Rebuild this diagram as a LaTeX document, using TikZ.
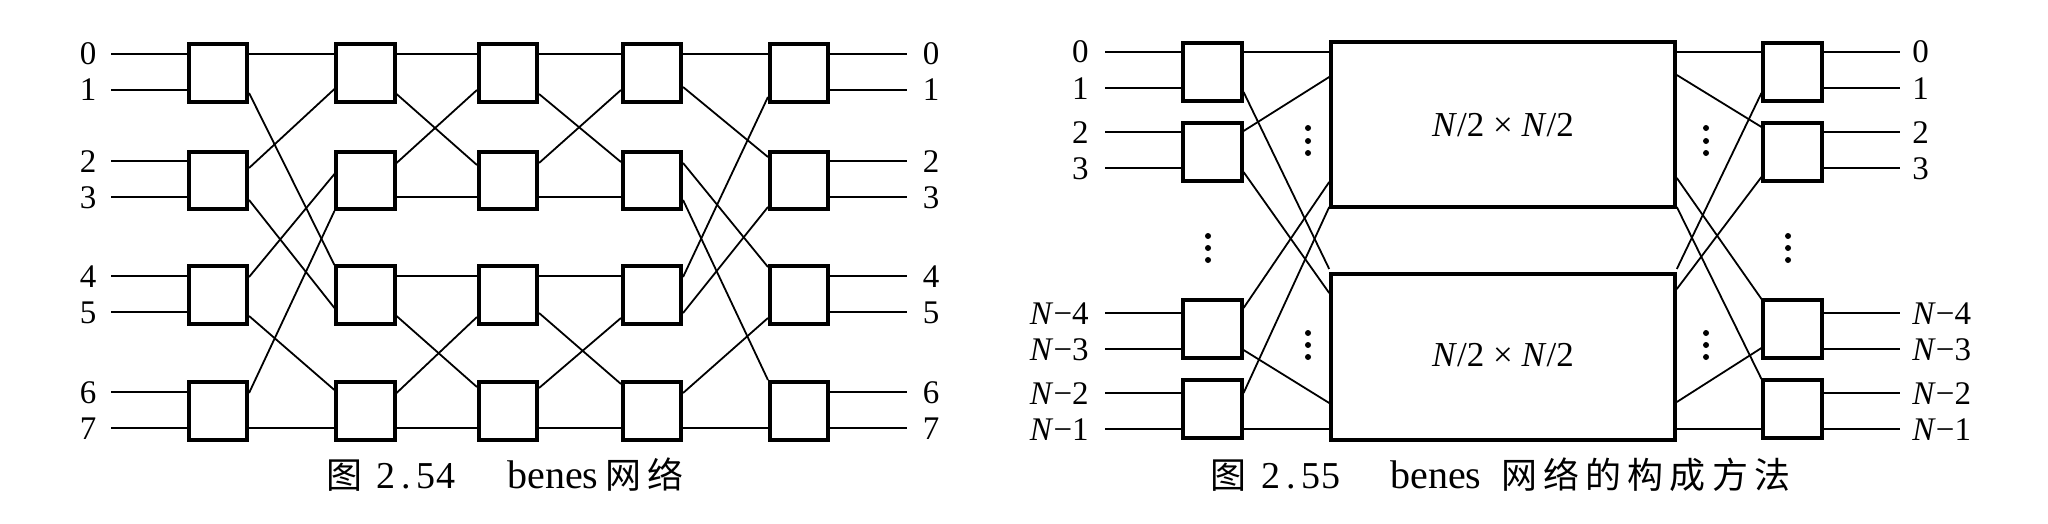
\documentclass[tikz,border=0pt]{standalone}
\usepackage{fontspec}
\setmainfont{Liberation Serif}
\newfontfamily\cjk[LetterSpace=17]{Noto Sans CJK SC}
\usetikzlibrary{calc}
\newcommand\lnk[4]{\draw[wire] (#1.east |- 0,#2) -- (#3.west |- 0,#4);}
\begin{document}
\begin{tikzpicture}[x=0.5pt,y=-0.5pt,
  sw/.style={draw,line width=1.8pt,minimum width=29.25pt,minimum height=28.75pt,inner sep=0pt},
  big/.style={draw,line width=1.8pt,minimum width=172pt,minimum height=82.75pt,inner sep=0pt},
  wire/.style={line width=0.9pt},
  lab/.style={font=\fontsize{16.5}{16.5}\selectfont,inner sep=0pt},
  dot/.style={circle,fill,inner sep=0pt,minimum size=3pt},
  capbase/.style={inner sep=0pt,anchor=base west},
  capcjk/.style={capbase,font=\cjk\fontsize{18}{18}\selectfont},
  capnum/.style={capbase,font=\fontsize{19}{19}\selectfont},
  caplat/.style={capbase,font=\fontsize{20}{20}\selectfont},
  bigtext/.style={inner sep=0pt,anchor=base,font=\fontsize{17.5}{17.5}\selectfont}]
\useasboundingbox (0,0) rectangle (2048,524);

% ---------------- left diagram: benes network ----------------
\foreach \c/\x in {0/218,1/365.5,2/508,3/652,4/799}
  \foreach \r/\y in {0/73,1/180.5,2/295,3/411}
    \node[sw] (b\c\r) at (\x,\y) {};

\foreach \n/\p/\r in {0/54/0,1/90/0,2/161/1,3/197/1,4/276/2,5/312/2,6/392/3,7/428/3}{
  \coordinate (i\n) at (111,\p);
  \coordinate (o\n) at (907,\p);
  \node[lab,anchor=base] (li\n) at (88,\p+11) {\n};
  \node[lab,anchor=base] (lo\n) at (931,\p+11) {\n};
  \draw[wire] (i\n) -- (b0\r.west |- i\n);
  \draw[wire] (b4\r.east |- o\n) -- (o\n);
}

\lnk{b00}{54}{b10}{54}
\lnk{b00}{93}{b12}{265}
\lnk{b01}{168}{b10}{89}
\lnk{b01}{200}{b12}{308}
\lnk{b02}{277}{b11}{174}
\lnk{b02}{316}{b13}{390}
\lnk{b03}{393}{b11}{211}
\lnk{b03}{428}{b13}{428}

\lnk{b10}{54}{b20}{54}
\lnk{b10}{94}{b21}{165}
\lnk{b11}{163}{b20}{90}
\lnk{b11}{197}{b21}{197}
\lnk{b12}{276}{b22}{276}
\lnk{b12}{316}{b23}{387}
\lnk{b13}{393}{b22}{317}
\lnk{b13}{428}{b23}{428}

\lnk{b20}{54}{b30}{54}
\lnk{b20}{94}{b31}{162}
\lnk{b21}{163}{b30}{90}
\lnk{b21}{197}{b31}{197}
\lnk{b22}{276}{b32}{276}
\lnk{b22}{313}{b33}{384}
\lnk{b23}{388}{b32}{318}
\lnk{b23}{428}{b33}{428}

\lnk{b30}{54}{b40}{54}
\lnk{b30}{87}{b41}{157}
\lnk{b31}{163}{b42}{267}
\lnk{b31}{200}{b43}{380}
\lnk{b32}{277}{b40}{97}
\lnk{b32}{313}{b41}{207}
\lnk{b33}{393}{b42}{318}
\lnk{b33}{428}{b43}{428}

\node[capcjk] (c1a) at (326,488) {图};
\node[capnum] (c1b) at (376,488) {\makebox[10pt]{2}\makebox[10pt]{.}\makebox[10pt]{5}\makebox[10pt]{4}};
\node[caplat] (c1c) at (507,488) {benes};
\node[capcjk] (c1d) at (605,488) {网络};

% ---------------- right diagram: construction ----------------
\foreach \r/\y in {0/72,1/152,2/329,3/409}{
  \node[sw] (L\r) at (1212.5,\y) {};
  \node[sw] (R\r) at (1792.5,\y) {};
}
\node[big] (U) at (1503,124.5) {};
\node[big] (D) at (1503,357) {};
\node[bigtext] (Ut) at (1503,136) {\textit{N}/2\hspace{0.25em}×\hspace{0.25em}\textit{N}/2};
\node[bigtext] (Dt) at (1503,366) {\textit{N}/2\hspace{0.25em}×\hspace{0.25em}\textit{N}/2};

\foreach \k/\p/\r/\t in {a/52/0/0,b/88/0/1,c/132/1/2,d/168/1/3,
    e/313/2/\textit{N}−4,f/349/2/\textit{N}−3,g/393/3/\textit{N}−2,h/429/3/\textit{N}−1}{
  \coordinate (ri\k) at (1105,\p);
  \coordinate (ro\k) at (1900,\p);
  \node[lab,anchor=base east] (rli\k) at (1089,\p+11) {\t};
  \node[lab,anchor=base west] (rlo\k) at (1912,\p+11) {\t};
  \draw[wire] (ri\k) -- (L\r.west |- ri\k);
  \draw[wire] (R\r.east |- ro\k) -- (ro\k);
}

\lnk{L0}{52}{U}{52}
\lnk{L0}{92}{D}{269}
\lnk{L1}{131}{U}{77}
\lnk{L1}{172}{D}{293}
\lnk{L2}{308}{U}{182}
\lnk{L2}{350}{D}{403}
\lnk{L3}{393}{U}{207}
\lnk{L3}{429}{D}{429}

\lnk{U}{52}{R0}{52}
\lnk{U}{75}{R1}{127}
\lnk{U}{178}{R2}{299}
\lnk{U}{207}{R3}{379}
\lnk{D}{269}{R0}{93}
\lnk{D}{289}{R1}{177}
\lnk{D}{402}{R2}{348}
\lnk{D}{429}{R3}{429}

\foreach \x/\y [count=\i] in {1308/128,1308/141,1308/153,1308/333,1308/345,1308/357,
    1208/236,1208/248,1208/260,1706/128,1706/141,1706/153,1706/333,1706/345,1706/357,
    1788/236,1788/248,1788/260}
  \node[dot] (dot\i) at (\x,\y) {};

\node[capcjk] (c2a) at (1210,488) {图};
\node[capnum] (c2b) at (1261,488) {\makebox[10pt]{2}\makebox[10pt]{.}\makebox[10pt]{5}\makebox[10pt]{5}};
\node[caplat] (c2c) at (1390,488) {benes};
\node[capcjk] (c2d) at (1501,488) {网络的构成方法};
\end{tikzpicture}
\end{document}
